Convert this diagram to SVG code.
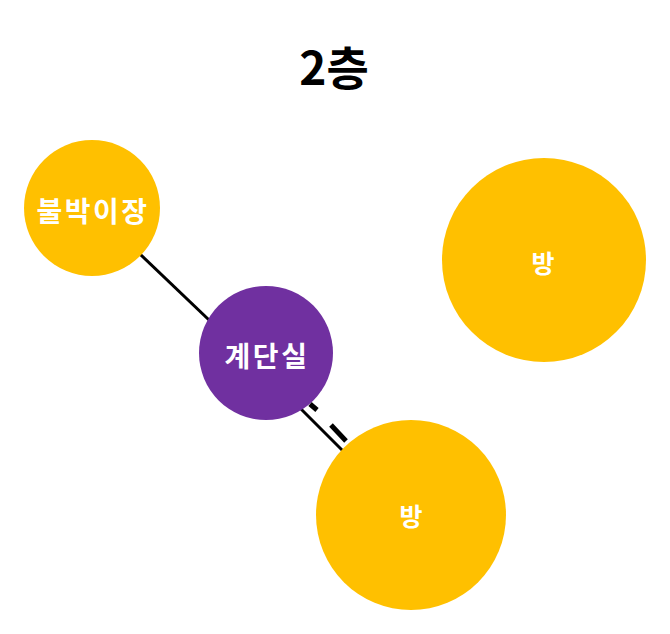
<svg xmlns="http://www.w3.org/2000/svg" width="670" height="634" viewBox="0 0 670 634">
<style>
.o{fill:#FFC000}
.p{fill:#7030A0}
.lbl{font-family:"Noto Sans CJK KR","Noto Sans",sans-serif;font-weight:bold;fill:#FFFFFF;text-anchor:middle;dominant-baseline:central}
.ln{stroke:#000;stroke-width:3;fill:none}
.dr{stroke:#000;stroke-width:5;fill:none}
</style>
<rect width="670" height="634" fill="#FFFFFF"/>
<text x="334" y="85" font-family="'Noto Sans CJK KR','Noto Sans',sans-serif" font-weight="bold" font-size="46" text-anchor="middle" fill="#000">2층</text>
<g id="connectors">
<line class="ln" x1="120" y1="235" x2="230" y2="340"/>
<line class="ln" x1="290" y1="398" x2="356" y2="464"/>
<line class="dr" x1="310" y1="404" x2="317" y2="410"/>
<line class="dr" x1="331" y1="425" x2="346" y2="441"/>
</g>
<g id="node-closet">
<circle class="o" cx="92" cy="208" r="68"/>
<text class="lbl" x="93" y="210" font-size="28" letter-spacing="2.5">불박이장</text>
</g>
<g id="node-stairs">
<circle class="p" cx="266" cy="353" r="67"/>
<text class="lbl" x="267" y="355" font-size="28" letter-spacing="2.5">계단실</text>
</g>
<g id="node-room1">
<circle class="o" cx="544" cy="260" r="102"/>
<text class="lbl" x="543" y="262" font-size="25">방</text>
</g>
<g id="node-room2">
<circle class="o" cx="411" cy="515" r="95"/>
<text class="lbl" x="411" y="515" font-size="25">방</text>
</g>
</svg>
